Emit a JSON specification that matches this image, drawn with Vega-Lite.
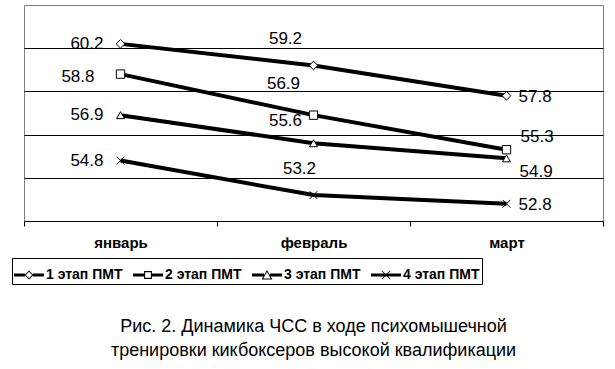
{
  "$schema": "https://vega.github.io/schema/vega-lite/v6.json",
  "width": 579,
  "height": 216,
  "autosize": "none",
  "padding": {"left": 24, "top": 5, "right": 12, "bottom": 148},
  "background": "white",
  "config": {
    "font": "Liberation Sans",
    "view": {"stroke": "#808080", "strokeWidth": 1}
  },
  "title": {
    "text": ["Рис. 2. Динамика ЧСС в ходе психомышечной", "тренировки кикбоксеров высокой квалификации"],
    "orient": "bottom",
    "anchor": "middle",
    "font": "Liberation Sans",
    "fontSize": 18,
    "fontWeight": "normal",
    "color": "black",
    "lineHeight": 24,
    "offset": 33
  },
  "data": {
    "values": [
      {"month": "январь", "stage": "1 этап ПМТ", "value": 60.2},
      {"month": "февраль", "stage": "1 этап ПМТ", "value": 59.2},
      {"month": "март", "stage": "1 этап ПМТ", "value": 57.8},
      {"month": "январь", "stage": "2 этап ПМТ", "value": 58.8},
      {"month": "февраль", "stage": "2 этап ПМТ", "value": 56.9},
      {"month": "март", "stage": "2 этап ПМТ", "value": 55.3},
      {"month": "январь", "stage": "3 этап ПМТ", "value": 56.9},
      {"month": "февраль", "stage": "3 этап ПМТ", "value": 55.6},
      {"month": "март", "stage": "3 этап ПМТ", "value": 54.9},
      {"month": "январь", "stage": "4 этап ПМТ", "value": 54.8},
      {"month": "февраль", "stage": "4 этап ПМТ", "value": 53.2},
      {"month": "март", "stage": "4 этап ПМТ", "value": 52.8}
    ]
  },
  "encoding": {
    "x": {
      "field": "month",
      "type": "nominal",
      "sort": ["январь", "февраль", "март"],
      "bandPosition": 0.5,
      "scale": {"type": "band", "paddingInner": 0, "paddingOuter": 0},
      "axis": {
        "title": null,
        "labelAngle": 0,
        "grid": false,
        "domainColor": "black",
        "domainWidth": 1,
        "tickColor": "black",
        "tickSize": 5,
        "tickBand": "extent",
        "labelFont": "Liberation Sans",
        "labelFontSize": 15,
        "labelFontWeight": "bold",
        "labelColor": "black",
        "labelPadding": 9
      }
    },
    "y": {
      "field": "value",
      "type": "quantitative",
      "scale": {"domain": [52, 62], "nice": false, "zero": false},
      "axis": {
        "title": null,
        "domain": false,
        "ticks": false,
        "labels": false,
        "grid": true,
        "gridColor": "black",
        "gridOpacity": 1,
        "gridWidth": 1,
        "values": [54, 56, 58, 60]
      }
    }
  },
  "layer": [
    {
      "mark": {"type": "line", "color": "black", "strokeWidth": 4},
      "encoding": {"detail": {"field": "stage"}}
    },
    {
      "mark": {"type": "point", "filled": true, "fill": "white", "stroke": "black", "strokeWidth": 1, "opacity": 1},
      "encoding": {
        "shape": {
          "field": "stage",
          "type": "nominal",
          "scale": {
            "domain": ["1 этап ПМТ", "2 этап ПМТ", "3 этап ПМТ", "4 этап ПМТ"],
            "range": ["diamond", "square", "triangle-up", "M-1,-1L1,1M-1,1L1,-1"]
          },
          "legend": null
        },
        "size": {
          "field": "stage",
          "type": "nominal",
          "scale": {
            "domain": ["1 этап ПМТ", "2 этап ПМТ", "3 этап ПМТ", "4 этап ПМТ"],
            "range": [75, 60, 140, 150]
          },
          "legend": null
        }
      }
    },
    {
      "mark": {"type": "point", "filled": true, "color": "black", "opacity": 0},
      "encoding": {
        "shape": {
          "field": "stage",
          "type": "nominal",
          "scale": {
            "domain": ["1 этап ПМТ", "2 этап ПМТ", "3 этап ПМТ", "4 этап ПМТ"],
            "range": [
              "M-1,-0.1H-0.27V0.1H-1Z M0.27,-0.1H1V0.1H0.27Z M0,-0.3L0.3,0L0,0.3L-0.3,0Z M0,-0.21L-0.21,0L0,0.21L0.21,0Z",
              "M-1,-0.1H-0.26V0.1H-1Z M0.26,-0.1H1V0.1H0.26Z M-0.26,-0.26H0.26V0.26H-0.26Z M-0.19,-0.19V0.19H0.19V-0.19Z",
              "M-1,-0.1H-0.2V0.1H-1Z M0.2,-0.1H1V0.1H0.2Z M0,-0.33L0.36,0.3L-0.36,0.3Z M0,-0.2L-0.25,0.23L0.25,0.23Z",
              "M-1,-0.1H1V0.1H-1Z M-0.3,-0.26L-0.26,-0.3L0.3,0.26L0.26,0.3Z M0.26,-0.3L0.3,-0.26L-0.26,0.3L-0.3,0.26Z"
            ]
          },
          "legend": {
            "title": null,
            "orient": "none",
            "legendX": -12,
            "legendY": 253,
            "direction": "horizontal",
            "columns": 4,
            "strokeColor": "black",
            "fillColor": "white",
            "padding": 2,
            "columnPadding": 10,
            "symbolSize": 900,
            "symbolFillColor": "black",
            "symbolStrokeWidth": 0,
            "symbolOpacity": 1,
            "labelFont": "Liberation Sans",
            "labelFontSize": 14,
            "labelFontWeight": "bold",
            "labelColor": "black",
            "labelOffset": 2,
            "labelLimit": 200
          }
        }
      }
    },
    {
      "transform": [{"filter": "datum.month == 'январь' && datum.stage != '2 этап ПМТ'"}],
      "mark": {"type": "text", "align": "right", "baseline": "middle", "dx": -17, "fontSize": 17, "color": "black"},
      "encoding": {"text": {"field": "value", "type": "quantitative", "format": ".1f"}}
    },
    {
      "transform": [{"filter": "datum.month == 'январь' && datum.stage == '2 этап ПМТ'"}],
      "mark": {"type": "text", "align": "right", "baseline": "middle", "dx": -26, "dy": 3, "fontSize": 17, "color": "black"},
      "encoding": {"text": {"field": "value", "type": "quantitative", "format": ".1f"}}
    },
    {
      "transform": [{"filter": "datum.month == 'февраль' && datum.stage == '1 этап ПМТ'"}],
      "mark": {"type": "text", "align": "center", "baseline": "middle", "dx": -28, "dy": -26, "fontSize": 17, "color": "black"},
      "encoding": {"text": {"field": "value", "type": "quantitative", "format": ".1f"}}
    },
    {
      "transform": [{"filter": "datum.month == 'февраль' && datum.stage == '2 этап ПМТ'"}],
      "mark": {"type": "text", "align": "center", "baseline": "middle", "dx": -30, "dy": -31, "fontSize": 17, "color": "black"},
      "encoding": {"text": {"field": "value", "type": "quantitative", "format": ".1f"}}
    },
    {
      "transform": [{"filter": "datum.month == 'февраль' && datum.stage == '3 этап ПМТ'"}],
      "mark": {"type": "text", "align": "center", "baseline": "middle", "dx": -28, "dy": -22, "fontSize": 17, "color": "black"},
      "encoding": {"text": {"field": "value", "type": "quantitative", "format": ".1f"}}
    },
    {
      "transform": [{"filter": "datum.month == 'февраль' && datum.stage == '4 этап ПМТ'"}],
      "mark": {"type": "text", "align": "center", "baseline": "middle", "dx": -14, "dy": -26, "fontSize": 17, "color": "black"},
      "encoding": {"text": {"field": "value", "type": "quantitative", "format": ".1f"}}
    },
    {
      "transform": [{"filter": "datum.month == 'март' && (datum.stage == '1 этап ПМТ' || datum.stage == '4 этап ПМТ')"}],
      "mark": {"type": "text", "align": "left", "baseline": "middle", "dx": 12, "dy": 1, "fontSize": 17, "color": "black"},
      "encoding": {"text": {"field": "value", "type": "quantitative", "format": ".1f"}}
    },
    {
      "transform": [{"filter": "datum.month == 'март' && datum.stage == '2 этап ПМТ'"}],
      "mark": {"type": "text", "align": "left", "baseline": "middle", "dx": 14, "dy": -13, "fontSize": 17, "color": "black"},
      "encoding": {"text": {"field": "value", "type": "quantitative", "format": ".1f"}}
    },
    {
      "transform": [{"filter": "datum.month == 'март' && datum.stage == '3 этап ПМТ'"}],
      "mark": {"type": "text", "align": "left", "baseline": "middle", "dx": 13, "dy": 14, "fontSize": 17, "color": "black"},
      "encoding": {"text": {"field": "value", "type": "quantitative", "format": ".1f"}}
    }
  ],
  "resolve": {
    "scale": {"shape": "independent", "size": "independent"},
    "legend": {"shape": "independent"}
  }
}
